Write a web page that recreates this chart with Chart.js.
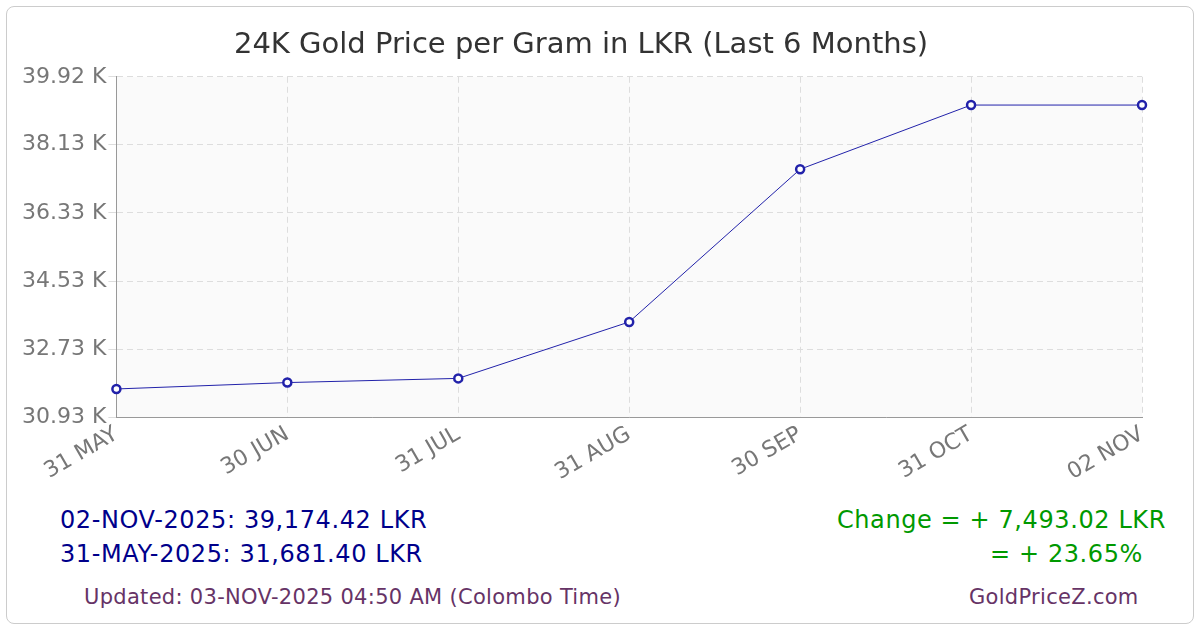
<!DOCTYPE html>
<html><head><meta charset="utf-8">
<script src="https://cdn.jsdelivr.net/npm/chart.js@4"></script>
<style>
body{margin:0;width:1200px;height:630px;background:#fff;font-family:"DejaVu Sans",sans-serif;position:relative;overflow:hidden}
#frame{position:absolute;left:6px;top:6px;width:1186px;height:616px;border:1px solid #ccc;border-radius:8px}
#c{position:absolute;left:0;top:0}
.t{position:absolute;font-size:24px;letter-spacing:0.6px;white-space:nowrap}
</style></head><body>
<div id="frame"></div>
<canvas id="c" width="1200" height="490"></canvas>
<div class="t" style="left:60px;top:506px;color:#00008b">02-NOV-2025: 39,174.42 LKR</div>
<div class="t" style="left:60px;top:540px;color:#00008b">31-MAY-2025: 31,681.40 LKR</div>
<div class="t" style="right:34px;top:506px;color:#009900">Change = + 7,493.02 LKR</div>
<div class="t" style="right:57px;top:540px;color:#009900">= + 23.65%</div>
<div class="t" style="left:84px;top:585px;color:#663366;font-size:21px;letter-spacing:0.3px">Updated: 03-NOV-2025 04:50 AM (Colombo Time)</div>
<div class="t" style="left:969px;top:585px;color:#663366;font-size:21px;letter-spacing:0.3px">GoldPriceZ.com</div>
<script>
const categories=["31 MAY","30 JUN","31 JUL","31 AUG","30 SEP","31 OCT","02 NOV"];
const prices=[31681.40,31850,31960,33450,37480,39174.42,39174.42];
const yTicks=[30930,32730,34530,36330,38130,39920];
const bg={id:'bg',beforeDraw(ch){const a=ch.chartArea,x=ch.ctx;x.save();x.fillStyle='#fafafa';x.fillRect(a.left,a.top,a.right-a.left,a.bottom-a.top);x.restore();}};
new Chart(document.getElementById('c'),{type:'line',
data:{labels:categories,datasets:[{data:prices,borderColor:'#2222aa',borderWidth:1,pointRadius:4,pointBorderWidth:2.5,pointBackgroundColor:'#fff',pointBorderColor:'#2222aa',tension:0}]},
options:{responsive:false,animation:false,devicePixelRatio:1,
layout:{padding:{left:20,right:58,top:0,bottom:0}},
plugins:{legend:{display:false},tooltip:{enabled:false},
title:{display:true,text:'24K Gold Price per Gram in LKR (Last 6 Months)',color:'#333',font:{family:'DejaVu Sans',size:29,weight:'normal'},padding:{top:28,bottom:14}}},
scales:{
x:{offset:false,grid:{color:'#ddd',tickLength:0,drawTicks:false},border:{dash:[6,4],color:'#999'},
ticks:{color:'#777',font:{family:'DejaVu Sans',size:22},minRotation:30,maxRotation:30,padding:4}},
y:{min:30930,max:39920,afterBuildTicks(s){s.ticks=yTicks.map(v=>({value:v}));},
grid:{color:'#ddd',drawTicks:true,tickLength:8},border:{color:'#999',dash:[6,4]},
ticks:{color:'#777',font:{family:'DejaVu Sans',size:22},padding:2,callback:v=>(v/1000).toFixed(2)+' K'}}}},
plugins:[bg]});
</script></body></html>
